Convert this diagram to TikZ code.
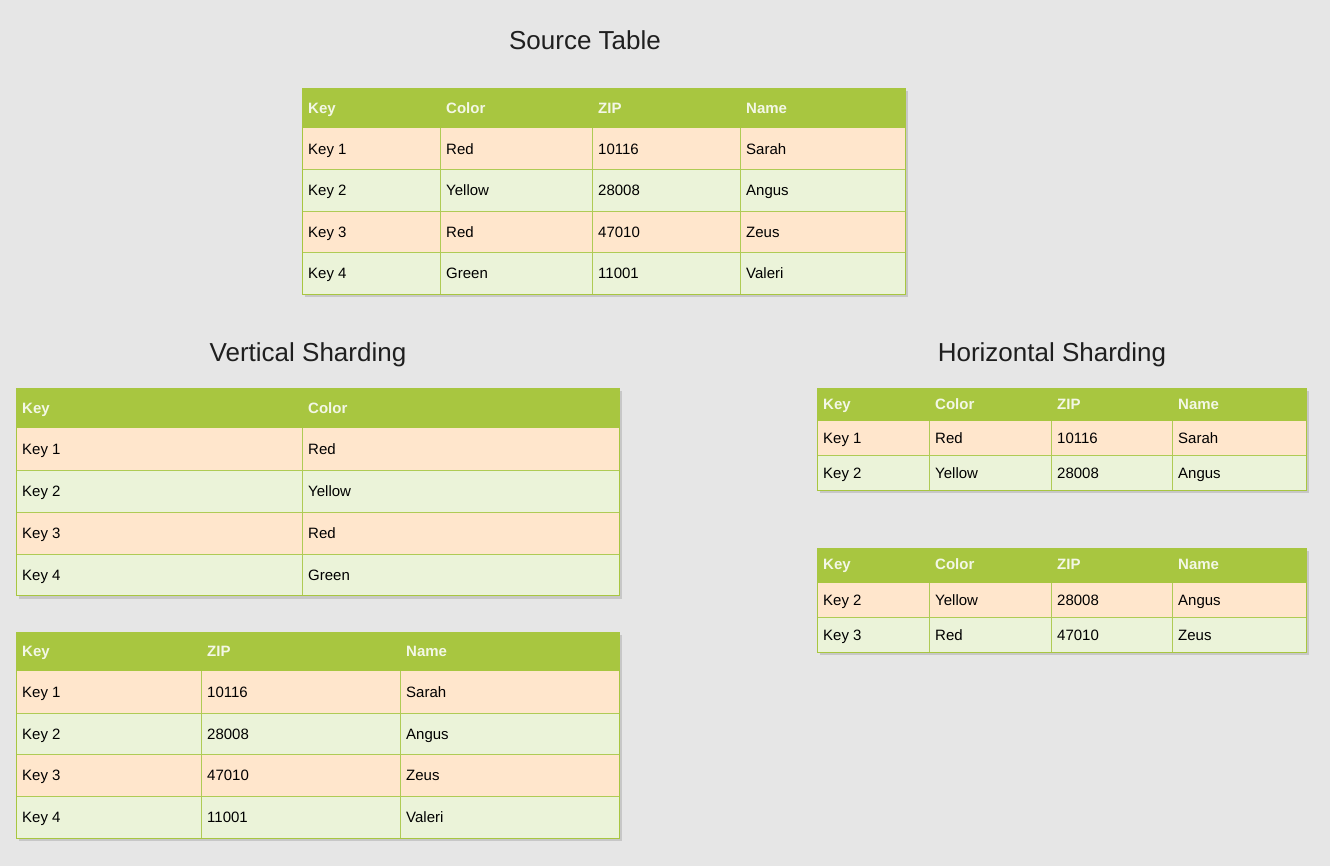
\documentclass[tikz,border=0pt]{standalone}
\usepackage{fontspec}
\setmainfont{Liberation Sans}
\usetikzlibrary{calc}

\definecolor{bggrey}{HTML}{E6E6E6}
\definecolor{headgreen}{HTML}{A8C640}
\definecolor{peach}{HTML}{FFE6CC}
\definecolor{mint}{HTML}{EBF3D9}
\definecolor{linegreen}{HTML}{AFCB55}
\definecolor{headtext}{HTML}{F3F7E6}

\tikzset{
  cell/.style={anchor=west, inner sep=0pt, text height=13pt, text depth=2pt,
    font=\fontsize{15}{18}\selectfont},
  headcell/.style={cell, text=headtext, font=\fontsize{15}{18}\selectfont\bfseries},
  title/.style={inner sep=0pt, font=\fontsize{26}{30}\selectfont, text=black!88}
}

\newcommand{\tableframe}[7]{%
  \pgfmathsetmacro\tbot{#2+#4+#6*#5}
  \fill[black!22] (#1+3,#2+3) rectangle (#3+3,\tbot+3);
  \fill[headgreen] (#1,#2) rectangle (#3,#2+#4);
  \foreach \i in {1,...,#6}{
    \pgfmathsetmacro\ra{#2+#4+(\i-1)*#5}
    \pgfmathsetmacro\rb{#2+#4+\i*#5}
    \ifodd\i\relax \def\rowcol{peach}\else \def\rowcol{mint}\fi
    \fill[\rowcol] (#1,\ra) rectangle (#3,\rb);
  }
  \foreach \i in {1,...,#6}{
    \pgfmathsetmacro\rb{#2+#4+\i*#5}
    \draw[linegreen] (#1,\rb) -- (#3,\rb);
  }
  \foreach \cx in {#7}
    \draw[linegreen] (\cx,#2+#4) -- (\cx,\tbot);
  \draw[headgreen] (#1,#2) rectangle (#3,\tbot);
}

\begin{document}
\begin{tikzpicture}[x=1pt,y=-1pt]
   \fill[bggrey] (0,0) rectangle (1330,866);
   \useasboundingbox (0,0) rectangle (1330,866);

   \node[title] (srctitle) at (585,40) {Source Table};
   \node[title] (verttitle) at (308,355) {Vertical Sharding};
   \node[title] (hortitle) at (1052,355) {Horizontal Sharding};

   \tableframe{302}{88}{905}{40}{41.5}{4}{440,592,740}
   \foreach \h/\x [count=\j] in {Key/308, Color/446, ZIP/598, Name/746}
     \node[headcell] (src-h\j) at (\x,108) {\h};
   \foreach \k/\c/\z/\m [count=\i] in {Key 1/Red/10116/Sarah, Key 2/Yellow/28008/Angus, Key 3/Red/47010/Zeus, Key 4/Green/11001/Valeri}{
     \node[cell] (src-\i-1) at (308,{128+(\i-0.5)*41.5}) {\k};
     \node[cell] (src-\i-2) at (446,{128+(\i-0.5)*41.5}) {\c};
     \node[cell] (src-\i-3) at (598,{128+(\i-0.5)*41.5}) {\z};
     \node[cell] (src-\i-4) at (746,{128+(\i-0.5)*41.5}) {\m};
   }

   \tableframe{16}{388}{619}{40}{41.9}{4}{302}
   \foreach \h/\x [count=\j] in {Key/22, Color/308}
     \node[headcell] (va-h\j) at (\x,408) {\h};
   \foreach \k/\c [count=\i] in {Key 1/Red, Key 2/Yellow, Key 3/Red, Key 4/Green}{
     \node[cell] (va-\i-1) at (22,{428+(\i-0.5)*41.9}) {\k};
     \node[cell] (va-\i-2) at (308,{428+(\i-0.5)*41.9}) {\c};
   }

   \tableframe{16}{632}{619}{39}{41.75}{4}{201,400}
   \foreach \h/\x [count=\j] in {Key/22, ZIP/207, Name/406}
     \node[headcell] (vb-h\j) at (\x,651) {\h};
   \foreach \k/\z/\m [count=\i] in {Key 1/10116/Sarah, Key 2/28008/Angus, Key 3/47010/Zeus, Key 4/11001/Valeri}{
     \node[cell] (vb-\i-1) at (22,{671+(\i-0.5)*41.75}) {\k};
     \node[cell] (vb-\i-2) at (207,{671+(\i-0.5)*41.75}) {\z};
     \node[cell] (vb-\i-3) at (406,{671+(\i-0.5)*41.75}) {\m};
   }

   \tableframe{817}{388}{1306}{33}{34.5}{2}{929,1051,1172}
   \foreach \h/\x [count=\j] in {Key/823, Color/935, ZIP/1057, Name/1178}
     \node[headcell] (ha-h\j) at (\x,404) {\h};
   \foreach \k/\c/\z/\m [count=\i] in {Key 1/Red/10116/Sarah, Key 2/Yellow/28008/Angus}{
     \node[cell] (ha-\i-1) at (823,{421+(\i-0.5)*34.5}) {\k};
     \node[cell] (ha-\i-2) at (935,{421+(\i-0.5)*34.5}) {\c};
     \node[cell] (ha-\i-3) at (1057,{421+(\i-0.5)*34.5}) {\z};
     \node[cell] (ha-\i-4) at (1178,{421+(\i-0.5)*34.5}) {\m};
   }

   \tableframe{817}{548}{1306}{35}{34.5}{2}{929,1051,1172}
   \foreach \h/\x [count=\j] in {Key/823, Color/935, ZIP/1057, Name/1178}
     \node[headcell] (hb-h\j) at (\x,564) {\h};
   \foreach \k/\c/\z/\m [count=\i] in {Key 2/Yellow/28008/Angus, Key 3/Red/47010/Zeus}{
     \node[cell] (hb-\i-1) at (823,{583+(\i-0.5)*34.5}) {\k};
     \node[cell] (hb-\i-2) at (935,{583+(\i-0.5)*34.5}) {\c};
     \node[cell] (hb-\i-3) at (1057,{583+(\i-0.5)*34.5}) {\z};
     \node[cell] (hb-\i-4) at (1178,{583+(\i-0.5)*34.5}) {\m};
   }

\end{tikzpicture}
\end{document}
